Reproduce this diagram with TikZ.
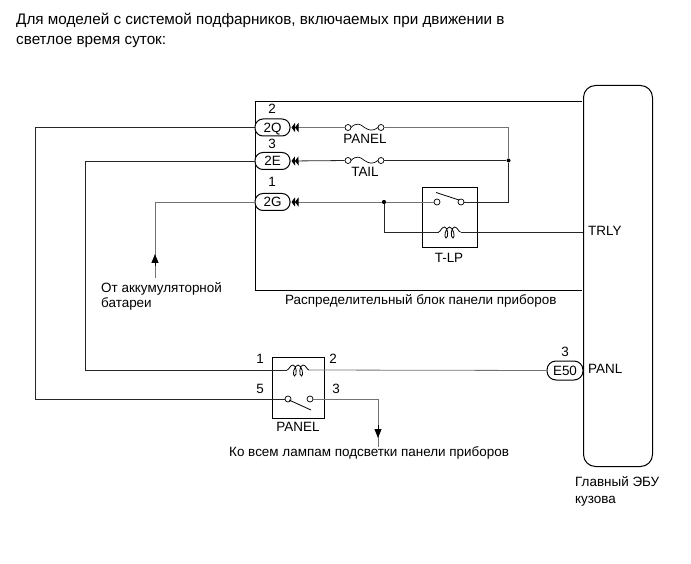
\documentclass[tikz,border=0pt]{standalone}
\usepackage{fontspec}
\setmainfont{Liberation Sans}
\usetikzlibrary{arrows.meta}
\tikzset{
  wire/.style={line width=0.8pt,black!85},
  greywire/.style={line width=0.8pt,black!55},
  frame/.style={draw,line width=0.95pt},
  conn/.style={draw,line width=1pt,rounded corners=8pt,minimum width=35pt,minimum height=17pt,inner sep=0pt,font=\fontsize{13.45}{13.45}\selectfont,fill=white,text height=9.5pt,text depth=0pt},
  contact/.style={circle,draw,line width=0.7pt,minimum size=6pt,inner sep=0pt,fill=white},
  dotnode/.style={circle,fill=black,minimum size=4pt,inner sep=0pt},
  lab/.style={font=\fontsize{13.45}{13.45}\selectfont,inner sep=0pt,text height=11.5pt,text depth=1.5pt},
  ttl/.style={font=\fontsize{15.25}{15.25}\selectfont,inner sep=0pt,anchor=base west},
  tip/.style={-{Triangle[length=9pt,width=7pt]}},
  backtip/.style={{Triangle[length=3.5pt,width=9pt,color=black]Triangle[length=3.5pt,width=9pt,color=black]}-},
  coilpath/.style={line width=0.8pt,black}
}
\newcommand{\coilat}[2]{%
  \draw[coilpath] (#1-11,#2) .. controls (#1-9,#2) and (#1-8,#2-5) .. (#1-5,#2-5)
    .. controls (#1-1,#2-5) and (#1-1,#2+6) .. (#1-3.5,#2+6)
    .. controls (#1-6,#2+6) and (#1-4,#2-5) .. (#1,#2-5)
    .. controls (#1+4,#2-5) and (#1+6,#2+6) .. (#1+3.5,#2+6)
    .. controls (#1+1,#2+6) and (#1+1,#2-5) .. (#1+5,#2-5)
    .. controls (#1+8,#2-5) and (#1+9,#2) .. (#1+11,#2);}
\begin{document}
\begin{tikzpicture}[x=1pt,y=-1pt]
\useasboundingbox (0,0) rectangle (691,564);
\node[ttl] (t1) at (16,25) {Для моделей с системой подфарников, включаемых при движении в};
\node[ttl] (t2) at (16,45) {светлое время суток:};

% outer shapes
\draw[frame] (582,101) -- (255,101) -- (255,290) -- (582,290);
\node[draw,line width=1pt,rounded corners=12pt,minimum width=69pt,minimum height=381pt,inner sep=0pt,anchor=north west] (ecu) at (583,85) {};

% relays
\node[draw,line width=1pt,minimum width=55pt,minimum height=60pt,inner sep=0pt,anchor=north west] (tlp) at (422,187) {};
\node[draw,line width=1pt,minimum width=52pt,minimum height=61pt,inner sep=0pt,anchor=north west] (prel) at (272,357) {};

% connectors
\node[conn] (q) at (272.5,127.5) {2Q};
\node[conn] (e) at (272.5,161) {2E};
\node[conn] (g) at (272.5,202) {2G};
\node[conn,minimum width=36pt,minimum height=19pt,rounded corners=9pt] (e50) at (565,370.5) {E50};

% contacts and free points
\node[contact] (fq1) at (348,127.5) {};
\node[contact] (fq2) at (381,127.5) {};
\node[contact] (fe1) at (348,160.5) {};
\node[contact] (fe2) at (381,160.5) {};
\node[contact] (s1) at (437,202) {};
\node[contact] (s2) at (461,202) {};
\node[contact] (p1) at (288,399) {};
\node[contact] (p2) at (310,399) {};
\node[dotnode] (d1) at (508.5,160.5) {};
\node[dotnode] (d2) at (384,202) {};
\coordinate (qa) at (508.5,127.5);
\coordinate (sr) at (508.5,202);
\coordinate (cl) at (384,232);
\coordinate (c1) at (438.5,232);
\coordinate (c2) at (460.5,232);
\coordinate (trly) at (583,232);
\coordinate (pc1) at (287,370);
\coordinate (pc2) at (309,370);
\coordinate (lq) at (35,127.5);
\coordinate (lqb) at (35,399);
\coordinate (le) at (85,161);
\coordinate (leb) at (85,370);
\coordinate (lg) at (155,202);
\coordinate (lgb) at (155,278);
\coordinate (ar) at (378,399);
\coordinate (arb) at (378,447);

% wires
\draw[greywire,backtip,shorten <=1pt] (q.east) -- (fq1);
\draw[greywire] (fq2) -- (qa) -- (d1);
\draw[wire,backtip,shorten <=1pt] (e.east) -- (fe1);
\draw[wire] (fe2) -- (d1);
\draw[wire] (d1) -- (sr) -- (s2);
\draw[greywire,backtip,shorten <=1pt] (g.east) -- (s1);
\fill (d2) circle (2pt);
\draw[wire] (d2) -- (cl) -- (c1);
\draw[wire] (c2) -- (trly);
\draw[wire] (q.west) -- (lq) -- (lqb) -- (p1);
\draw[wire] (e.west) -- (le) -- (leb) -- (pc1);
\draw[greywire] (g.west) -- (lg);
\draw[greywire] (lg) -- (lgb);
\draw[black,line width=0.8pt,-{Triangle[length=9pt,width=7pt]}] (155,266) -- (155,254);
\draw[greywire] (pc2) -- (e50.west);
\draw[greywire] (p2) -- (ar) -- (arb);
\draw[black,line width=0.8pt,tip] (378,425) -- (378,438);

% switch arms
\draw[line width=0.8pt] (436,192.5) -- (459,200);
\draw[line width=0.8pt] (289,400) -- (311,410);

% fuses
\foreach \y in {127.5,160.5}{
  \draw[line width=0.7pt] (351,\y) .. controls (356,\y-5) and (360,\y-4) .. (364.5,\y) .. controls (369,\y+3) and (373,\y+4) .. (378,\y);
}
% coils
\coilat{449.5}{232}
\coilat{298}{370}

% labels
\node[lab] (n2) at (272,109) {2};
\node[lab] (n3) at (272,143.5) {3};
\node[lab] (n1) at (272,182) {1};
\node[lab] (lp) at (365,139) {PANEL};
\node[lab] (lt) at (365,172) {TAIL};
\node[lab] (ltl) at (449,257) {T-LP};
\node[lab,anchor=west] (ltr) at (588,231) {TRLY};
\node[lab,anchor=west] (lpn) at (588,368) {PANL};
\node[lab] (l3) at (565,351) {3};
\node[lab] (r1) at (260,358) {1};
\node[lab] (r2) at (333,358) {2};
\node[lab] (r5) at (260,388) {5};
\node[lab] (r3) at (336,388) {3};
\node[lab] (lpr) at (298,426) {PANEL};
\node[lab,anchor=west] (b1) at (101,287) {От аккумуляторной};
\node[lab,anchor=west] (b2) at (101,303) {батареи};
\node[lab,anchor=west] (rb) at (285,300) {Распределительный блок панели приборов};
\node[lab,anchor=west] (all) at (229,451) {Ко всем лампам подсветки панели приборов};
\node[lab,anchor=west] (m1) at (575,481) {Главный ЭБУ};
\node[lab,anchor=west] (m2) at (575,498) {кузова};
\end{tikzpicture}
\end{document}
